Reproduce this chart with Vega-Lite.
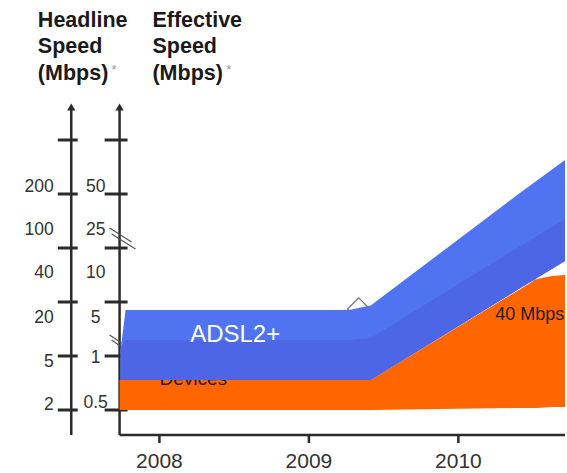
{
  "$schema": "https://vega.github.io/schema/vega-lite/v6.json",
  "width": 567,
  "height": 473,
  "autosize": {"type": "fit", "contains": "padding"},
  "padding": 0,
  "background": "white",
  "config": {"view": {"stroke": null}, "font": "Liberation Sans"},
  "datasets": {
    "rules": [
      {"kind": "axis", "year": 2007.41, "level": 5.5926, "year2": 2007.41, "level2": -0.463},
      {"kind": "axis", "year": 2007.73333, "level": 5.5926, "year2": 2007.73333, "level2": -0.463},
      {"kind": "axis", "year": 2007.73333, "level": -0.463, "year2": 2010.71333, "level2": -0.463},
      {"kind": "tick", "year": 2007.32, "level": 0, "year2": 2007.45333, "level2": 0},
      {"kind": "tick", "year": 2007.32, "level": 1, "year2": 2007.45333, "level2": 1},
      {"kind": "tick", "year": 2007.32, "level": 2, "year2": 2007.45333, "level2": 2},
      {"kind": "tick", "year": 2007.32, "level": 3, "year2": 2007.45333, "level2": 3},
      {"kind": "tick", "year": 2007.32, "level": 4, "year2": 2007.45333, "level2": 4},
      {"kind": "tick", "year": 2007.32, "level": 5, "year2": 2007.45333, "level2": 5},
      {"kind": "tick", "year": 2007.63333, "level": 0, "year2": 2007.78667, "level2": 0},
      {"kind": "tick", "year": 2007.63333, "level": 1, "year2": 2007.78667, "level2": 1},
      {"kind": "tick", "year": 2007.63333, "level": 2, "year2": 2007.78667, "level2": 2},
      {"kind": "tick", "year": 2007.63333, "level": 3, "year2": 2007.78667, "level2": 3},
      {"kind": "tick", "year": 2007.63333, "level": 4, "year2": 2007.78667, "level2": 4},
      {"kind": "tick", "year": 2007.63333, "level": 5, "year2": 2007.78667, "level2": 5},
      {"kind": "yeartick", "year": 2008, "level": -0.463, "year2": 2008, "level2": -0.6111},
      {"kind": "yeartick", "year": 2009, "level": -0.463, "year2": 2009, "level2": -0.6111},
      {"kind": "yeartick", "year": 2010, "level": -0.463, "year2": 2010, "level2": -0.6111},
      {"kind": "break", "year": 2007.66667, "level": 3.3704, "year2": 2007.81333, "level2": 3.1111},
      {"kind": "break", "year": 2007.68, "level": 3.2593, "year2": 2007.84, "level2": 2.9815},
      {"kind": "break", "year": 2007.66667, "level": 1.3889, "year2": 2007.74667, "level2": 1.2407},
      {"kind": "break", "year": 2007.68, "level": 1.2963, "year2": 2007.74667, "level2": 1.1667}
    ],
    "arrows": [
      {"year": 2007.41, "level": 5.6111},
      {"year": 2007.73333, "level": 5.6111}
    ],
    "markers": [
      {"year": 2009.33333, "level": 1.8704},
      {"year": 2010.51333, "level": 2.2037}
    ],
    "bands": [
      {"band": "devices", "year": 2007.73333, "level": 0.5556, "level2": 0},
      {"band": "devices", "year": 2009.41333, "level": 0.5556, "level2": 0},
      {"band": "devices", "year": 2010.39333, "level": 2.2037, "level2": 0.037},
      {"band": "devices", "year": 2010.52667, "level": 2.4259, "level2": 0.037},
      {"band": "devices", "year": 2010.62667, "level": 2.4815, "level2": 0.0556},
      {"band": "devices", "year": 2010.71333, "level": 2.5, "level2": 0.0556},
      {"band": "adsl", "year": 2007.74, "level": 1.1111, "level2": 0.5556},
      {"band": "adsl", "year": 2007.77333, "level": 1.8519, "level2": 0.5556},
      {"band": "adsl", "year": 2009.26667, "level": 1.8519, "level2": 0.5556},
      {"band": "adsl", "year": 2009.41333, "level": 1.9352, "level2": 0.5556},
      {"band": "adsl", "year": 2010.39333, "level": 3.9796, "level2": 2.2222},
      {"band": "adsl", "year": 2010.71333, "level": 4.6296, "level2": 2.7593},
      {"band": "adsl_low", "year": 2007.74, "level": 1.1111, "level2": 0.5556},
      {"band": "adsl_low", "year": 2007.77333, "level": 1.2963, "level2": 0.5556},
      {"band": "adsl_low", "year": 2009.26667, "level": 1.2963, "level2": 0.5556},
      {"band": "adsl_low", "year": 2009.41333, "level": 1.3333, "level2": 0.5556},
      {"band": "adsl_low", "year": 2010.39333, "level": 3.0, "level2": 2.2222},
      {"band": "adsl_low", "year": 2010.71333, "level": 3.537, "level2": 2.7593}
    ],
    "scaleLabels": [
      {"axis": "headline", "label": "200", "year": 2007.29333, "level": 4.1296},
      {"axis": "headline", "label": "100", "year": 2007.29333, "level": 3.3333},
      {"axis": "headline", "label": "40", "year": 2007.29333, "level": 2.537},
      {"axis": "headline", "label": "20", "year": 2007.29333, "level": 1.7037},
      {"axis": "headline", "label": "5", "year": 2007.29333, "level": 0.8889},
      {"axis": "headline", "label": "2", "year": 2007.29333, "level": 0.0926},
      {"axis": "effective", "label": "50", "year": 2007.57333, "level": 4.1296},
      {"axis": "effective", "label": "25", "year": 2007.57333, "level": 3.3333},
      {"axis": "effective", "label": "10", "year": 2007.57333, "level": 2.537},
      {"axis": "effective", "label": "5", "year": 2007.57333, "level": 1.7037},
      {"axis": "effective", "label": "1", "year": 2007.57333, "level": 0.963},
      {"axis": "effective", "label": "0.5", "year": 2007.57333, "level": 0.1296}
    ],
    "years": [
      {"label": "2008", "year": 2008, "level": -1.0741},
      {"label": "2009", "year": 2009, "level": -1.0741},
      {"label": "2010", "year": 2010, "level": -1.0741}
    ],
    "headers": [
      {"label": "Headline", "year": 2007.18667, "level": 7.0926},
      {"label": "Speed", "year": 2007.18667, "level": 6.6111},
      {"label": "(Mbps)", "year": 2007.18667, "level": 6.1111},
      {"label": "Effective", "year": 2007.95333, "level": 7.0926},
      {"label": "Speed", "year": 2007.95333, "level": 6.6111},
      {"label": "(Mbps)", "year": 2007.95333, "level": 6.1111}
    ],
    "footnoteMarks": [
      {"label": "*", "year": 2007.68, "level": 6.2222},
      {"label": "*", "year": 2008.44667, "level": 6.2222}
    ],
    "bandLabels": [
      {"label": "Devices", "year": 2008.0, "level": 0.463},
      {"label": "ADSL2+", "year": 2008.50667, "level": 1.3889},
      {"label": "40 Mbps", "year": 2010.24667, "level": 1.6667}
    ]
  },
  "encoding": {
    "x": {"field": "year", "type": "quantitative", "scale": {"domain": [2006.93333, 2010.71333], "nice": false, "zero": false}, "axis": null},
    "y": {"field": "level", "type": "quantitative", "scale": {"domain": [-1.16667, 7.59259], "nice": false, "zero": false}, "axis": null}
  },
  "layer": [
    {
      "data": {"name": "rules"},
      "transform": [{"filter": "datum.kind === 'axis'"}],
      "mark": {"type": "rule", "stroke": "#2b2b2b", "strokeWidth": 2.5},
      "encoding": {"x2": {"field": "year2"}, "y2": {"field": "level2"}}
    },
    {
      "data": {"name": "rules"},
      "transform": [{"filter": "datum.kind === 'tick'"}],
      "mark": {"type": "rule", "stroke": "#2b2b2b", "strokeWidth": 3},
      "encoding": {"x2": {"field": "year2"}, "y2": {"field": "level2"}}
    },
    {
      "data": {"name": "rules"},
      "transform": [{"filter": "datum.kind === 'yeartick'"}],
      "mark": {"type": "rule", "stroke": "#2b2b2b", "strokeWidth": 2.5},
      "encoding": {"x2": {"field": "year2"}, "y2": {"field": "level2"}}
    },
    {
      "data": {"name": "rules"},
      "transform": [{"filter": "datum.kind === 'break'"}],
      "mark": {"type": "rule", "stroke": "#555555", "strokeWidth": 1.2},
      "encoding": {"x2": {"field": "year2"}, "y2": {"field": "level2"}}
    },
    {
      "data": {"name": "arrows"},
      "mark": {"type": "point", "shape": "triangle-up", "filled": true, "color": "#2b2b2b", "size": 70, "opacity": 1}
    },
    {
      "data": {"name": "markers"},
      "mark": {"type": "point", "shape": "diamond", "filled": true, "fill": "white", "stroke": "#777777", "strokeWidth": 1.3, "size": 500, "opacity": 1}
    },
    {
      "data": {"name": "bands"},
      "transform": [{"filter": "datum.band === 'devices'"}],
      "mark": {"type": "area", "color": "#ff6600", "opacity": 1},
      "encoding": {"y2": {"field": "level2"}}
    },
    {
      "data": {"name": "bandLabels"},
      "transform": [{"filter": "datum.label === 'Devices'"}],
      "mark": {"type": "text", "align": "left", "baseline": "alphabetic", "fontSize": 19, "fill": "#1e1e1e"},
      "encoding": {"text": {"field": "label"}}
    },
    {
      "data": {"name": "bands"},
      "transform": [{"filter": "datum.band === 'adsl'"}],
      "mark": {"type": "area", "color": "#5073f2", "opacity": 1},
      "encoding": {"y2": {"field": "level2"}}
    },
    {
      "data": {"name": "bands"},
      "transform": [{"filter": "datum.band === 'adsl_low'"}],
      "mark": {"type": "area", "color": "#4d66e6", "opacity": 1},
      "encoding": {"y2": {"field": "level2"}}
    },
    {
      "data": {"name": "bandLabels"},
      "transform": [{"filter": "datum.label === 'ADSL2+'"}],
      "mark": {"type": "text", "align": "center", "baseline": "middle", "fontSize": 24, "fill": "#ffffff"},
      "encoding": {"text": {"field": "label"}}
    },
    {
      "data": {"name": "bandLabels"},
      "transform": [{"filter": "datum.label === '40 Mbps'"}],
      "mark": {"type": "text", "align": "left", "baseline": "alphabetic", "fontSize": 18, "fill": "#1e1e1e"},
      "encoding": {"text": {"field": "label"}}
    },
    {
      "data": {"name": "scaleLabels"},
      "transform": [{"filter": "datum.axis === 'headline'"}],
      "mark": {"type": "text", "align": "right", "baseline": "middle", "fontSize": 17.5, "fill": "#333333"},
      "encoding": {"text": {"field": "label"}}
    },
    {
      "data": {"name": "scaleLabels"},
      "transform": [{"filter": "datum.axis === 'effective'"}],
      "mark": {"type": "text", "align": "center", "baseline": "middle", "fontSize": 17.5, "fill": "#333333"},
      "encoding": {"text": {"field": "label"}}
    },
    {
      "data": {"name": "years"},
      "mark": {"type": "text", "align": "center", "baseline": "alphabetic", "fontSize": 21, "fill": "#333333"},
      "encoding": {"text": {"field": "label"}}
    },
    {
      "data": {"name": "headers"},
      "mark": {"type": "text", "align": "left", "baseline": "alphabetic", "fontSize": 21.5, "fontWeight": "bold", "fill": "#1a1a1a"},
      "encoding": {"text": {"field": "label"}}
    },
    {
      "data": {"name": "footnoteMarks"},
      "mark": {"type": "text", "align": "left", "baseline": "alphabetic", "fontSize": 13, "fill": "#999999"},
      "encoding": {"text": {"field": "label"}}
    }
  ]
}
